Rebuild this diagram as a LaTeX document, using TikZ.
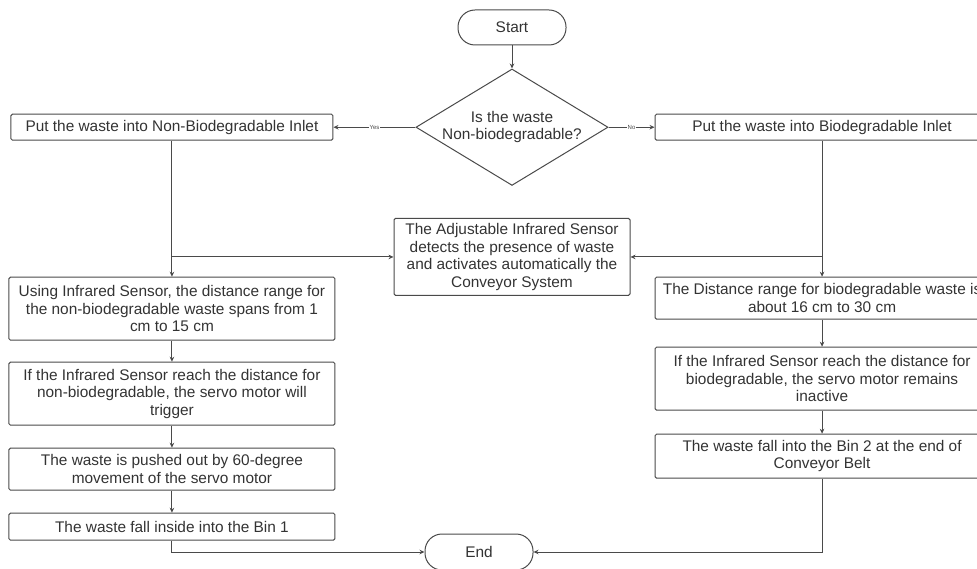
\documentclass[tikz,border=0pt]{standalone}
\usepackage{fontspec}
\setmainfont{Liberation Sans}
\usetikzlibrary{positioning,arrows.meta,shapes.geometric}
\definecolor{cLine}{HTML}{4a4a4a}
\definecolor{cText}{HTML}{333333}
\tikzset{
  >={Stealth[length=5pt,width=4.5pt]},
  sbox/.style={rectangle,rounded corners=1.5pt,draw=cLine,line width=1pt,
               align=center,inner sep=2pt,text=cText,minimum width=326pt},
  swide/.style={sbox,minimum width=334pt},
  sterm/.style={sbox,rounded corners=17pt,minimum width=108pt,minimum height=35pt},
  sdec/.style={diamond,draw=cLine,line width=1pt,align=center,text=cText,
               inner sep=0pt,aspect=1.65,minimum width=188pt,minimum height=114pt},
  sar/.style={->,line width=1pt,cLine},
  slab/.style={font=\fontsize{6}{7}\selectfont,fill=white,inner sep=1pt,text=cLine},
}
\begin{document}
\begin{tikzpicture}[x=1pt,y=-1pt,font=\fontsize{15.4}{17.5}\selectfont]
  \useasboundingbox (0,0) rectangle (977,569);
  % top: start and decision
  \node[sterm] (start) at (512,27.5) {Start};
  \node[sdec,below=23pt of start] (dec) {Is the waste\\Non-biodegradable?};
  \node[sbox,minimum width=322pt,minimum height=26pt,left=82pt of dec] (l1)
       {Put the waste into Non-Biodegradable Inlet};
  \node[swide,minimum height=26pt,right=46pt of dec] (r1)
       {Put the waste into Biodegradable Inlet};
  \node[sbox,minimum width=236pt,minimum height=77pt,below=32pt of dec] (sens)
       {The Adjustable Infrared Sensor\\detects the presence of waste\\
        and activates automatically the\\Conveyor System};
  % left column
  \node[sbox,minimum height=63pt,below=136pt of l1] (l2)
       {Using Infrared Sensor, the distance range for\\
        the non-biodegradable waste spans from 1\\cm to 15 cm};
  \node[sbox,minimum height=63pt,below=21pt of l2] (l3)
       {If the Infrared Sensor reach the distance for\\
        non-biodegradable, the servo motor will\\trigger};
  \node[sbox,minimum height=42pt,below=22pt of l3] (l4)
       {The waste is pushed out by 60-degree\\movement of the servo motor};
  \node[sbox,minimum height=27pt,below=22pt of l4] (l5)
       {The waste fall inside into the Bin 1};
  % right column
  \node[swide,minimum height=42pt,below=136pt of r1] (r2)
       {The Distance range for biodegradable waste is\\about 16 cm to 30 cm};
  \node[swide,minimum height=63pt,below=27pt of r2] (r3)
       {If the Infrared Sensor reach the distance for\\
        biodegradable, the servo motor remains\\inactive};
  \node[swide,minimum height=44pt,below=23pt of r3] (r4)
       {The waste fall into the Bin 2 at the end of\\Conveyor Belt};
  \node[sterm,minimum height=36pt] (end) at (479,552) {End};
  % connectors
  \draw[sar] (start) -- (dec);
  \draw[sar] (dec.west) -- node[slab] {Yes} (l1.east);
  \draw[sar] (dec.east) -- node[slab] {No} (r1.west);
  \draw[sar] (l1) -- (l2);
  \draw[sar] (l1.south |- sens.west) -- (sens.west);
  \draw[sar] (r1) -- (r2);
  \draw[sar] (r1.south |- sens.east) -- (sens.east);
  \draw[sar] (l2) -- (l3);
  \draw[sar] (l3) -- (l4);
  \draw[sar] (l4) -- (l5);
  \draw[sar] (r2) -- (r3);
  \draw[sar] (r3) -- (r4);
  \draw[sar] (l5) |- (end);
  \draw[sar] (r4) |- (end);
\end{tikzpicture}
\end{document}
